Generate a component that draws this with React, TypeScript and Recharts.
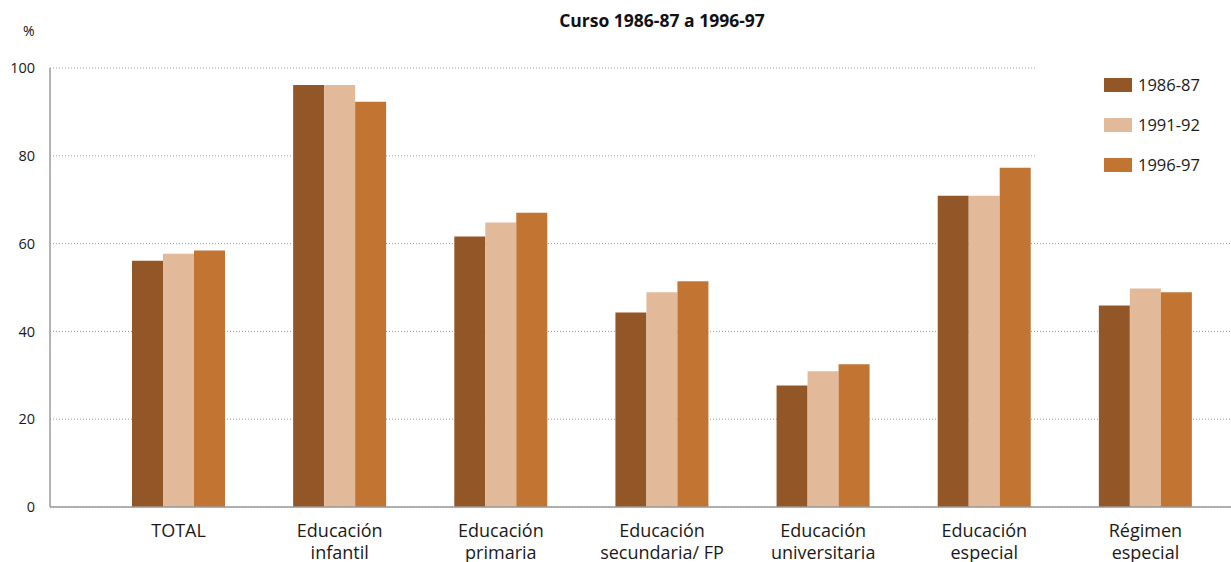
import { BarChart, Bar, XAxis, YAxis, CartesianGrid } from 'recharts';

const categories = [
  ['TOTAL'],
  ['Educación', 'infantil'],
  ['Educación', 'primaria'],
  ['Educación', 'secundaria/ FP'],
  ['Educación', 'universitaria'],
  ['Educación', 'especial'],
  ['Régimen', 'especial'],
];
const s1986 = [56.1, 96.1, 61.6, 44.3, 27.7, 70.9, 45.9];
const s1991 = [57.7, 96.1, 64.8, 48.9, 30.9, 70.9, 49.8];
const s1996 = [58.4, 92.3, 67.0, 51.4, 32.5, 77.3, 48.9];
const yTicks = [0, 20, 40, 60, 80, 100];

const series = [
  { key: 'a', name: '1986-87', color: '#935727' },
  { key: 'b', name: '1991-92', color: '#E2B999' },
  { key: 'c', name: '1996-97', color: '#C27433' },
];

const data = categories.map((c, i) => ({
  cat: c.join('\n'),
  a: s1986[i],
  b: s1991[i],
  c: s1996[i],
}));

const FONT = '"Open Sans", "Noto Sans", sans-serif';

function CatTick({ x, y, payload }: any) {
  const lines = String(payload.value).split('\n');
  return (
    <text x={x} y={y} textAnchor="middle" fontFamily={FONT} fontSize={18} fill="#1a1a1a">
      {lines.map((l, i) => (
        <tspan key={i} x={x} dy={22}>{l}</tspan>
      ))}
    </text>
  );
}

function LegendBox() {
  return (
    <div style={{ position: 'absolute', left: 1035, top: 60, width: 196, height: 135, background: '#fff' }}>
      {series.map((s, i) => (
        <div key={s.key} style={{ position: 'absolute', left: 69, top: 18 + i * 40, display: 'flex', alignItems: 'center' }}>
          <div style={{ width: 28, height: 14, background: s.color }} />
          <span style={{ marginLeft: 6, fontFamily: '"Liberation Sans Narrow", "Open Sans", sans-serif', fontSize: 16.5, color: '#1a1a1a', lineHeight: '14px' }}>{s.name}</span>
        </div>
      ))}
    </div>
  );
}

export default function App() {
  return (
    <div style={{ position: 'absolute', left: 0, top: 0, width: 1231, height: 562, background: '#fff', overflow: 'hidden' }}>
      <div style={{ position: 'absolute', left: 0, width: 1324, top: 8, textAlign: 'center', fontFamily: FONT, fontWeight: 700, fontSize: 17.5, color: '#111' }}>
        Curso 1986-87 a 1996-97
      </div>
      <div style={{ position: 'absolute', left: 23, top: 21, fontFamily: FONT, fontSize: 14, color: '#111' }}>%</div>
      <BarChart
        width={1231}
        height={562}
        data={data}
        margin={{ top: 68, right: 0, left: 0, bottom: 0 }}
        barCategoryGap={34}
        barGap={0}
      >
        <CartesianGrid vertical={false} stroke="#9a9a9a" strokeDasharray="1 2" />
        <XAxis
          dataKey="cat"
          interval={0}
          padding={{ left: 48, right: 5 }}
          axisLine={{ stroke: '#9a9a9a', strokeWidth: 1.5 }}
          tickLine={false}
          tick={<CatTick />}
          height={55}
        />
        <YAxis
          width={50}
          domain={[0, 100]}
          ticks={yTicks}
          axisLine={{ stroke: '#9a9a9a', strokeWidth: 1.5 }}
          tickLine={false}
          tickMargin={9}
          tick={{ fontFamily: FONT, fontSize: 14.5, fill: '#1a1a1a' }}
        />
        {series.map((s) => (
          <Bar key={s.key} dataKey={s.key} name={s.name} fill={s.color} isAnimationActive={false} />
        ))}
      </BarChart>
      <LegendBox />
    </div>
  );
}
